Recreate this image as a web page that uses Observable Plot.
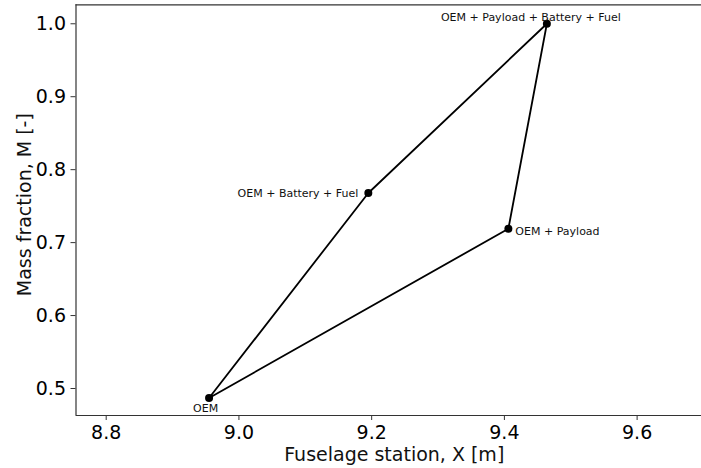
<!DOCTYPE html>
<html>
<head>
<meta charset="utf-8">
<script src="https://cdn.jsdelivr.net/npm/d3@7"></script>
<script src="https://cdn.jsdelivr.net/npm/@observablehq/plot@0.6"></script>
<style>
  html, body { margin: 0; padding: 0; background: #ffffff; }
  #chart svg { display: block; }
</style>
</head>
<body>
<div id="chart"></div>
<script>
// Data
const labels = ["OEM", "OEM + Payload", "OEM + Payload + Battery + Fuel", "OEM + Battery + Fuel"];
const xValues = [8.955, 9.406, 9.464, 9.195];
const yValues = [0.487, 0.719, 1.000, 0.768];
const xTicks = [8.8, 9.0, 9.2, 9.4, 9.6];
const yTicks = [0.5, 0.6, 0.7, 0.8, 0.9, 1.0];
const xTitle = "Fuselage station, X [m]";
const yTitle = "Mass fraction, M [-]";

const pts = labels.map((l, i) => ({label: l, x: xValues[i], y: yValues[i]}));
const loop = [...pts, pts[0]];

const labelOpts = [
  {textAnchor: "middle", dx: -3.5, dy: 10.5},
  {textAnchor: "start", dx: 7, dy: 3},
  {textAnchor: "middle", dx: -16, dy: -6.5},
  {textAnchor: "end", dx: -10, dy: 0}
];

const xDomain = [8.7545, 9.697];
const yDomain = [0.463, 1.026];
const font = "DejaVu Sans, sans-serif";

const chart = Plot.plot({
  width: 701,
  height: 468,
  marginLeft: 75.5,
  marginRight: 0,
  marginTop: 4.3,
  marginBottom: 53,
  style: {fontFamily: font, background: "#ffffff", color: "#000"},
  x: {domain: xDomain},
  y: {domain: yDomain},
  marks: [
    Plot.axisX({ticks: xTicks, tickFormat: d3.format(".1f"), tickSize: 5, tickPadding: 5, fontSize: 19, label: null, stroke: "#333"}),
    Plot.axisY({ticks: yTicks, tickFormat: d3.format(".1f"), tickSize: 5, tickPadding: 5, fontSize: 19, label: null, stroke: "#333"}),
    Plot.ruleX([xDomain[0]], {stroke: "#333", strokeWidth: 1.2}),
    Plot.ruleY([yDomain[0]], {stroke: "#333", strokeWidth: 1.2}),
    Plot.ruleY([yDomain[1]], {stroke: "#333", strokeWidth: 1.2}),
    Plot.line(loop, {x: "x", y: "y", stroke: "#000", strokeWidth: 1.8}),
    Plot.dot(pts, {x: "x", y: "y", r: 4, fill: "#000", stroke: null}),
    ...pts.map((p, i) => Plot.text([p], {x: "x", y: "y", text: "label", fontSize: 11, fill: "#111", ...labelOpts[i]})),
    Plot.text([xTitle], {frameAnchor: "bottom", dx: 5.5, dy: 45, textAnchor: "middle", fontSize: 19, fill: "#111", text: d => d}),
    Plot.text([yTitle], {frameAnchor: "left", dx: -51.5, dy: -5.5, textAnchor: "middle", rotate: -90, fontSize: 19, fill: "#111", text: d => d})
  ]
});
document.getElementById("chart").appendChild(chart);
</script>
</body>
</html>
